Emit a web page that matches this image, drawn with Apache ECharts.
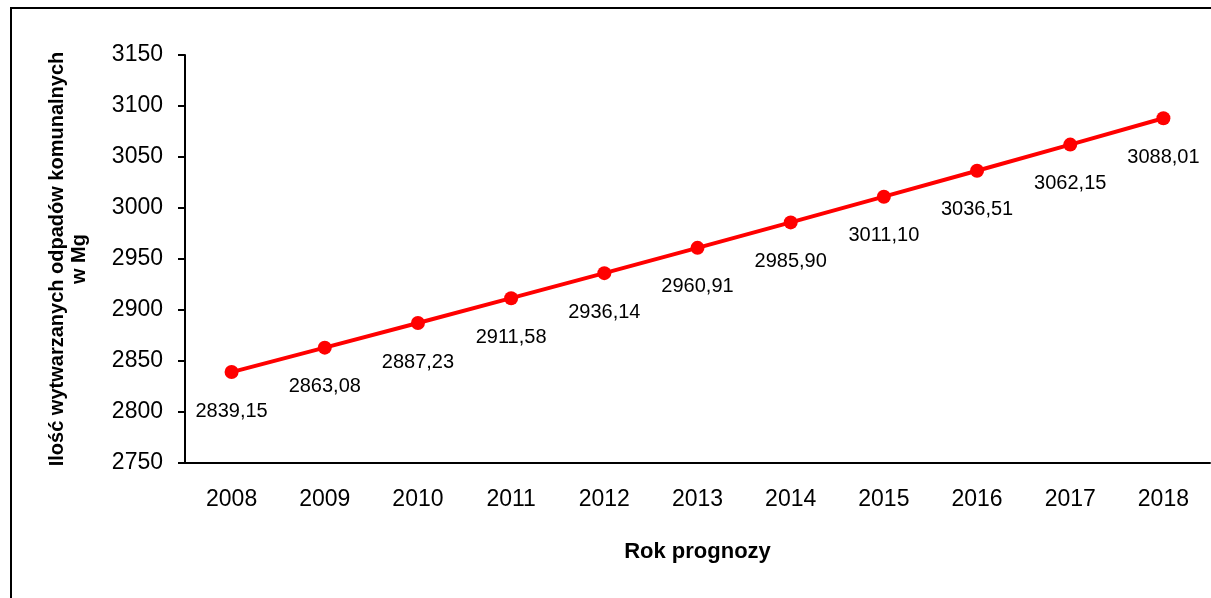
<!DOCTYPE html>
<html>
<head>
<meta charset="utf-8">
<script src="https://cdn.jsdelivr.net/npm/echarts@6/dist/echarts.min.js"></script>
<style>
html,body{margin:0;padding:0;background:#fff;}
#chart{width:1211px;height:598px;}
</style>
</head>
<body>
<div id="chart"></div>
<script>
const years = ['2008','2009','2010','2011','2012','2013','2014','2015','2016','2017','2018'];
const values = [2839.15, 2863.08, 2887.23, 2911.58, 2936.14, 2960.91, 2985.90, 3011.10, 3036.51, 3062.15, 3088.01];
const yTitle = 'Ilość wytwarzanych odpadów komunalnych\nw Mg';
const xTitle = 'Rok prognozy';

const chart = echarts.init(document.getElementById('chart'));
const font = 'Liberation Sans, Arial, sans-serif';
chart.setOption({
  animation: false,
  backgroundColor: '#fff',
  textStyle: {fontFamily: font},
  graphic: [{
    type: 'rect',
    shape: {x: 11, y: 8, width: 1400, height: 800},
    style: {fill: 'none', stroke: '#000', lineWidth: 2},
    silent: true
  }],
  grid: {left: 185, right: 1, top: 55, bottom: 135},
  xAxis: {
    type: 'category',
    data: years,
    boundaryGap: true,
    name: xTitle,
    nameLocation: 'middle',
    nameGap: 78,
    nameTextStyle: {fontFamily: font, fontSize: 22, fontWeight: 'bold', color: '#000'},
    axisLine: {lineStyle: {color: '#000', width: 2}},
    axisTick: {alignWithLabel: false, length: 7, lineStyle: {color: '#000', width: 2}},
    axisLabel: {fontFamily: font, fontSize: 23, color: '#000', margin: 25}
  },
  yAxis: {
    type: 'value',
    min: 2750,
    max: 3150,
    interval: 50,
    name: yTitle,
    nameLocation: 'middle',
    nameGap: 95,
    nameRotate: 90,
    nameTextStyle: {fontFamily: font, fontSize: 20, fontWeight: 'bold', color: '#000', lineHeight: 22},
    axisLine: {show: true, lineStyle: {color: '#000', width: 2}},
    axisTick: {show: true, length: 7, lineStyle: {color: '#000', width: 2}},
    axisLabel: {fontFamily: font, fontSize: 23, color: '#000', margin: 22, formatter: v => String(v)},
    splitLine: {show: false}
  },
  series: [{
    type: 'line',
    data: values,
    symbol: 'circle',
    symbolSize: 14,
    lineStyle: {color: '#ff0000', width: 4},
    itemStyle: {color: '#ff0000'},
    label: {
      show: true,
      position: 'bottom',
      distance: 22,
      fontFamily: font,
      fontSize: 20,
      color: '#000',
      formatter: p => p.value.toFixed(2).replace('.', ',')
    }
  }]
});
</script>
</body>
</html>
